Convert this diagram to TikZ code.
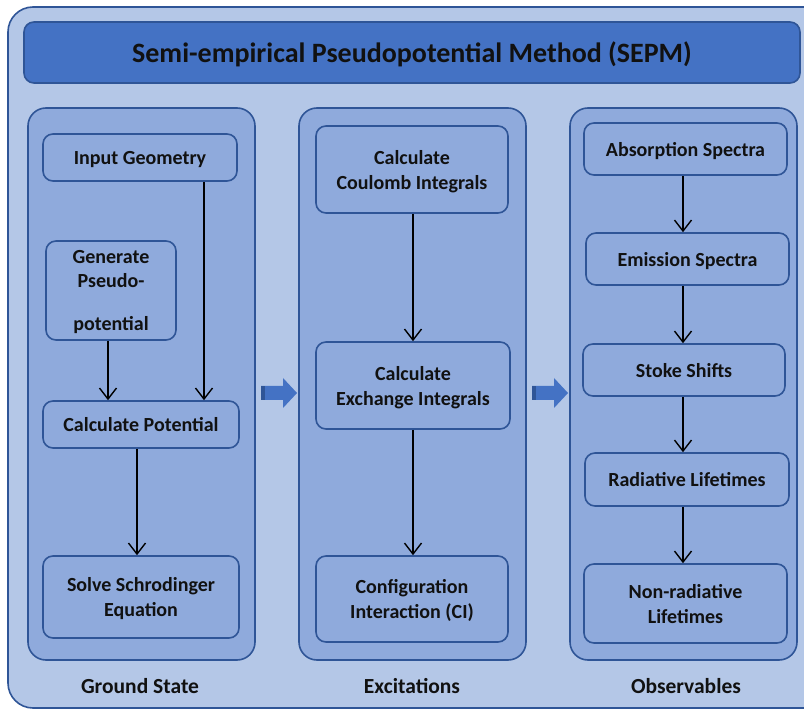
\documentclass[tikz,border=0pt]{standalone}
\usepackage{fontspec}
\setmainfont{Carlito}
\usetikzlibrary{arrows.meta,calc}
\definecolor{outerfill}{HTML}{B4C7E7}
\definecolor{colfill}{HTML}{8FAADC}
\definecolor{edge}{HTML}{2F5597}
\definecolor{titlefill}{HTML}{4472C4}
\definecolor{txt}{HTML}{111111}
\tikzset{
  colbox/.style={draw=edge, line width=1.6pt, fill=colfill, rounded corners=18pt},
  stepbox/.style={draw=edge, line width=1.6pt, fill=colfill, rounded corners=10pt,
     font=\fontsize{20}{25}\selectfont\bfseries, text=txt, align=center, inner sep=0pt, text depth=0pt},
  lbl/.style={font=\fontsize{21.5}{25}\selectfont\bfseries, text=txt},
  arr/.style={draw=black, line width=1.4pt, -{Straight Barb[length=11pt,width=17pt,line width=1.4pt]}},
  blockarrow/.style={fill=titlefill, draw=none}
}
\begin{document}
\begin{tikzpicture}[x=1pt,y=-1pt]
\useasboundingbox (0,0) rectangle (804,711);
\clip (0,0) rectangle (804,711);
% outer frame
\draw[draw=edge, line width=1.6pt, fill=outerfill, rounded corners=25pt] (8,7) rectangle (840,708);
% title
\node[draw=edge, line width=1.6pt, fill=titlefill, rounded corners=10pt, minimum width=776pt, minimum height=61pt, text depth=0pt,
  font=\fontsize{28}{32}\selectfont\bfseries, text=txt] (title) at (412,52.5) {Semi-empirical Pseudopotential Method (SEPM)};
% columns
\path[colbox] (28,108) rectangle (255,660);
\path[colbox] (299,108) rectangle (526,660);
\path[colbox] (570,108) rectangle (797,660);
% column labels
\node[lbl] (gs) at (140,686) {Ground State};
\node[lbl] (ex) at (412,686) {Excitations};
\node[lbl] (ob) at (686,686) {Observables};
% column 1
\node[stepbox, minimum width=194pt, minimum height=47pt] (ig) at (140,157.5) {Input Geometry};
\node[stepbox, minimum width=130pt, minimum height=99pt] (gp) at (111,290.5) {Generate\\[-1pt]Pseudo-\\[18pt]potential};
\node[stepbox, minimum width=196pt, minimum height=47pt] (cp) at (141,424.5) {Calculate Potential};
\node[stepbox, minimum width=196pt, minimum height=82pt] (ss) at (141,597) {Solve Schrodinger\\Equation};
\coordinate (igx) at (204,0);
\coordinate (gpx) at (108,0);
\coordinate (cpx) at (137,0);
\draw[arr] (ig.south -| igx) -- (cp.north -| igx);
\draw[arr] (gp.south -| gpx) -- (cp.north -| gpx);
\draw[arr] (cp.south -| cpx) -- (ss.north -| cpx);
% column 2
\node[stepbox, minimum width=192pt, minimum height=87pt] (cc) at (412,169.5) {Calculate\\Coulomb Integrals};
\node[stepbox, minimum width=194pt, minimum height=87pt] (ce) at (413,385.5) {Calculate\\Exchange Integrals};
\node[stepbox, minimum width=192pt, minimum height=86pt] (ci) at (412,599) {Configuration\\Interaction (CI)};
\coordinate (c2x) at (413,0);
\draw[arr] (cc.south -| c2x) -- (ce.north -| c2x);
\draw[arr] (ce.south -| c2x) -- (ci.north -| c2x);
% column 3
\node[stepbox, minimum width=203pt, minimum height=52pt] (ab) at (685.5,149) {Absorption Spectra};
\node[stepbox, minimum width=203pt, minimum height=52pt] (em) at (687.5,259) {Emission Spectra};
\node[stepbox, minimum width=202pt, minimum height=52pt] (st) at (684,370) {Stoke Shifts};
\node[stepbox, minimum width=204pt, minimum height=53pt] (rl) at (687,479.5) {Radiative Lifetimes};
\node[stepbox, minimum width=203pt, minimum height=79pt] (nr) at (685.5,603.5) {Non-radiative\\Lifetimes};
\coordinate (c3x) at (683,0);
\draw[arr] (ab.south -| c3x) -- (em.north -| c3x);
\draw[arr] (em.south -| c3x) -- (st.north -| c3x);
\draw[arr] (st.south -| c3x) -- (rl.north -| c3x);
\draw[arr] (rl.south -| c3x) -- (nr.north -| c3x);
% block arrows between columns
\foreach \bx in {261,532}{
  \path[blockarrow] (\bx,386) -- (\bx+22,386) -- (\bx+22,378) -- (\bx+36,393) -- (\bx+22,408) -- (\bx+22,400) -- (\bx,400) -- cycle;
  \fill[edge] (\bx,386) rectangle (\bx+4,400);
}
\end{tikzpicture}
\end{document}
